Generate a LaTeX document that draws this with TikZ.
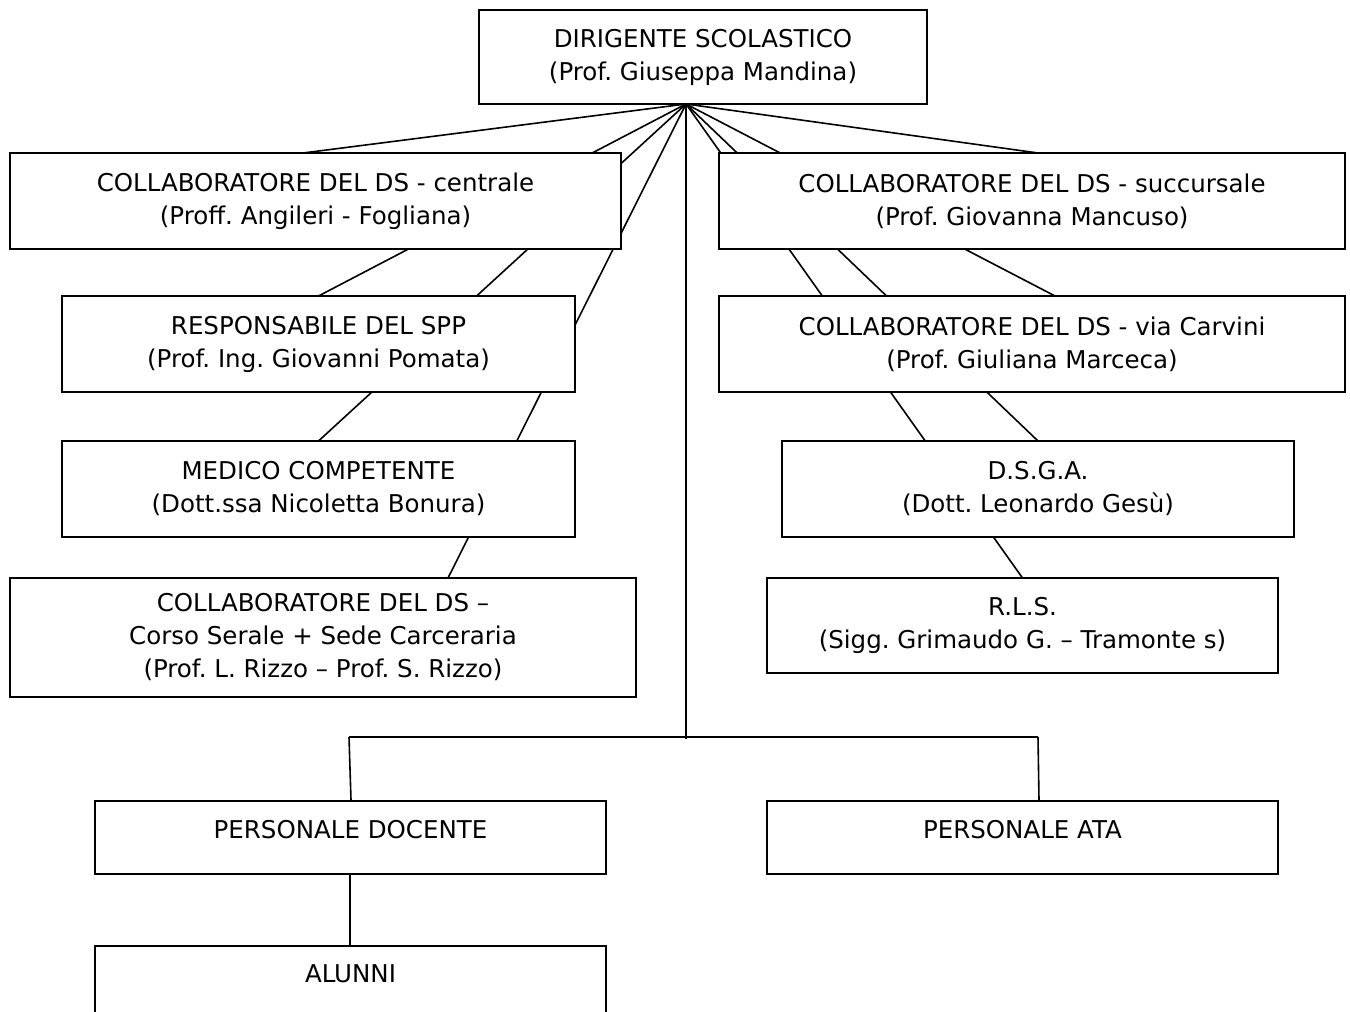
\documentclass[tikz,border=0pt]{standalone}
\usepackage{fontspec}
\setmainfont{DejaVu Sans}
\usetikzlibrary{calc}
\tikzset{
  box/.style={draw=black, line width=1.5pt, fill=white, rectangle, align=center,
    font=\fontsize{24.5}{33}\selectfont\frenchspacing, inner sep=0pt},
  conn/.style={draw=black, line width=1.6pt}
}
\begin{document}
\begin{tikzpicture}[x=1pt,y=-1pt]
\clip (0,0) rectangle (1350,1012);
\fill[white] (0,0) rectangle (1350,1012);
\coordinate (fan) at (686,104);
\coordinate (cenN) at (303,153);
\coordinate (sucN) at (1038,153);
\coordinate (serTop) at (448,578);
\coordinate (carvTop) at (1055,296);
\coordinate (mid) at (686,739);
\coordinate (hl) at (349,737);
\coordinate (hr) at (1038,737);
% connectors drawn before boxes so boxes cover them
\draw[conn] (fan) -- (cenN);
\draw[conn] (fan) -- (318.5,296) coordinate (respN);
\draw[conn] (fan) -- (318.5,441) coordinate (medN);
\draw[conn] (fan) -- (serTop);
\draw[conn] (fan) -- (sucN);
\draw[conn] (fan) -- (1022.5,578) coordinate (rlsN);
\draw[conn] (fan) -- (1038,441) coordinate (dsgaN);
\draw[conn] (fan) -- (carvTop);
\draw[conn] (fan) -- (mid);
\draw[conn] (hl) -- (hr);
% boxes
\node[box, minimum width=448pt, minimum height=94pt] (ds) at (703,57) {DIRIGENTE SCOLASTICO\\(Prof. Giuseppa Mandina)};
\node[box, minimum width=611pt, minimum height=96pt] (cen) at (315.5,201) {COLLABORATORE DEL DS - centrale\\(Proff. Angileri - Fogliana)};
\node[box, minimum width=626pt, minimum height=96pt] (suc) at (1032,201) {COLLABORATORE DEL DS - succursale\\(Prof. Giovanna Mancuso)};
\node[box, minimum width=513pt, minimum height=96pt] (resp) at (318.5,344) {RESPONSABILE DEL SPP\\(Prof. Ing. Giovanni Pomata)};
\node[box, minimum width=626pt, minimum height=96pt] (carv) at (1032,344) {COLLABORATORE DEL DS - via Carvini\\(Prof. Giuliana Marceca)};
\node[box, minimum width=513pt, minimum height=96pt] (med) at (318.5,489) {MEDICO COMPETENTE\\(Dott.ssa Nicoletta Bonura)};
\node[box, minimum width=512pt, minimum height=96pt] (dsga) at (1038,489) {D.S.G.A.\\(Dott. Leonardo Gesù)};
\node[box, minimum width=626pt, minimum height=119pt] (ser) at (323,637.5) {COLLABORATORE DEL DS –\\Corso Serale + Sede Carceraria\\(Prof. L. Rizzo – Prof. S. Rizzo)};
\node[box, minimum width=511pt, minimum height=95pt] (rls) at (1022.5,625.5) {R.L.S.\\(Sigg. Grimaudo G. – Tramonte s)};
\node[box, minimum width=511pt, text height=38pt, text depth=35pt, anchor=north] (doc) at (350.5,800) {PERSONALE DOCENTE};
\node[box, minimum width=511pt, text height=38pt, text depth=35pt, anchor=north] (ata) at (1022.5,800) {PERSONALE ATA};
\node[box, minimum width=511pt, text height=37pt, text depth=70pt, anchor=north] (alu) at (350.5,945) {ALUNNI};
\draw[conn] (hl) -- ($(doc.north)+(0.5,0)$);
\draw[conn] (hr) -- ($(ata.north)+(16.5,0)$);
\draw[conn] ($(doc.south)+(-0.5,0)$) -- ($(alu.north)+(-0.5,0)$);
\end{tikzpicture}
\end{document}
